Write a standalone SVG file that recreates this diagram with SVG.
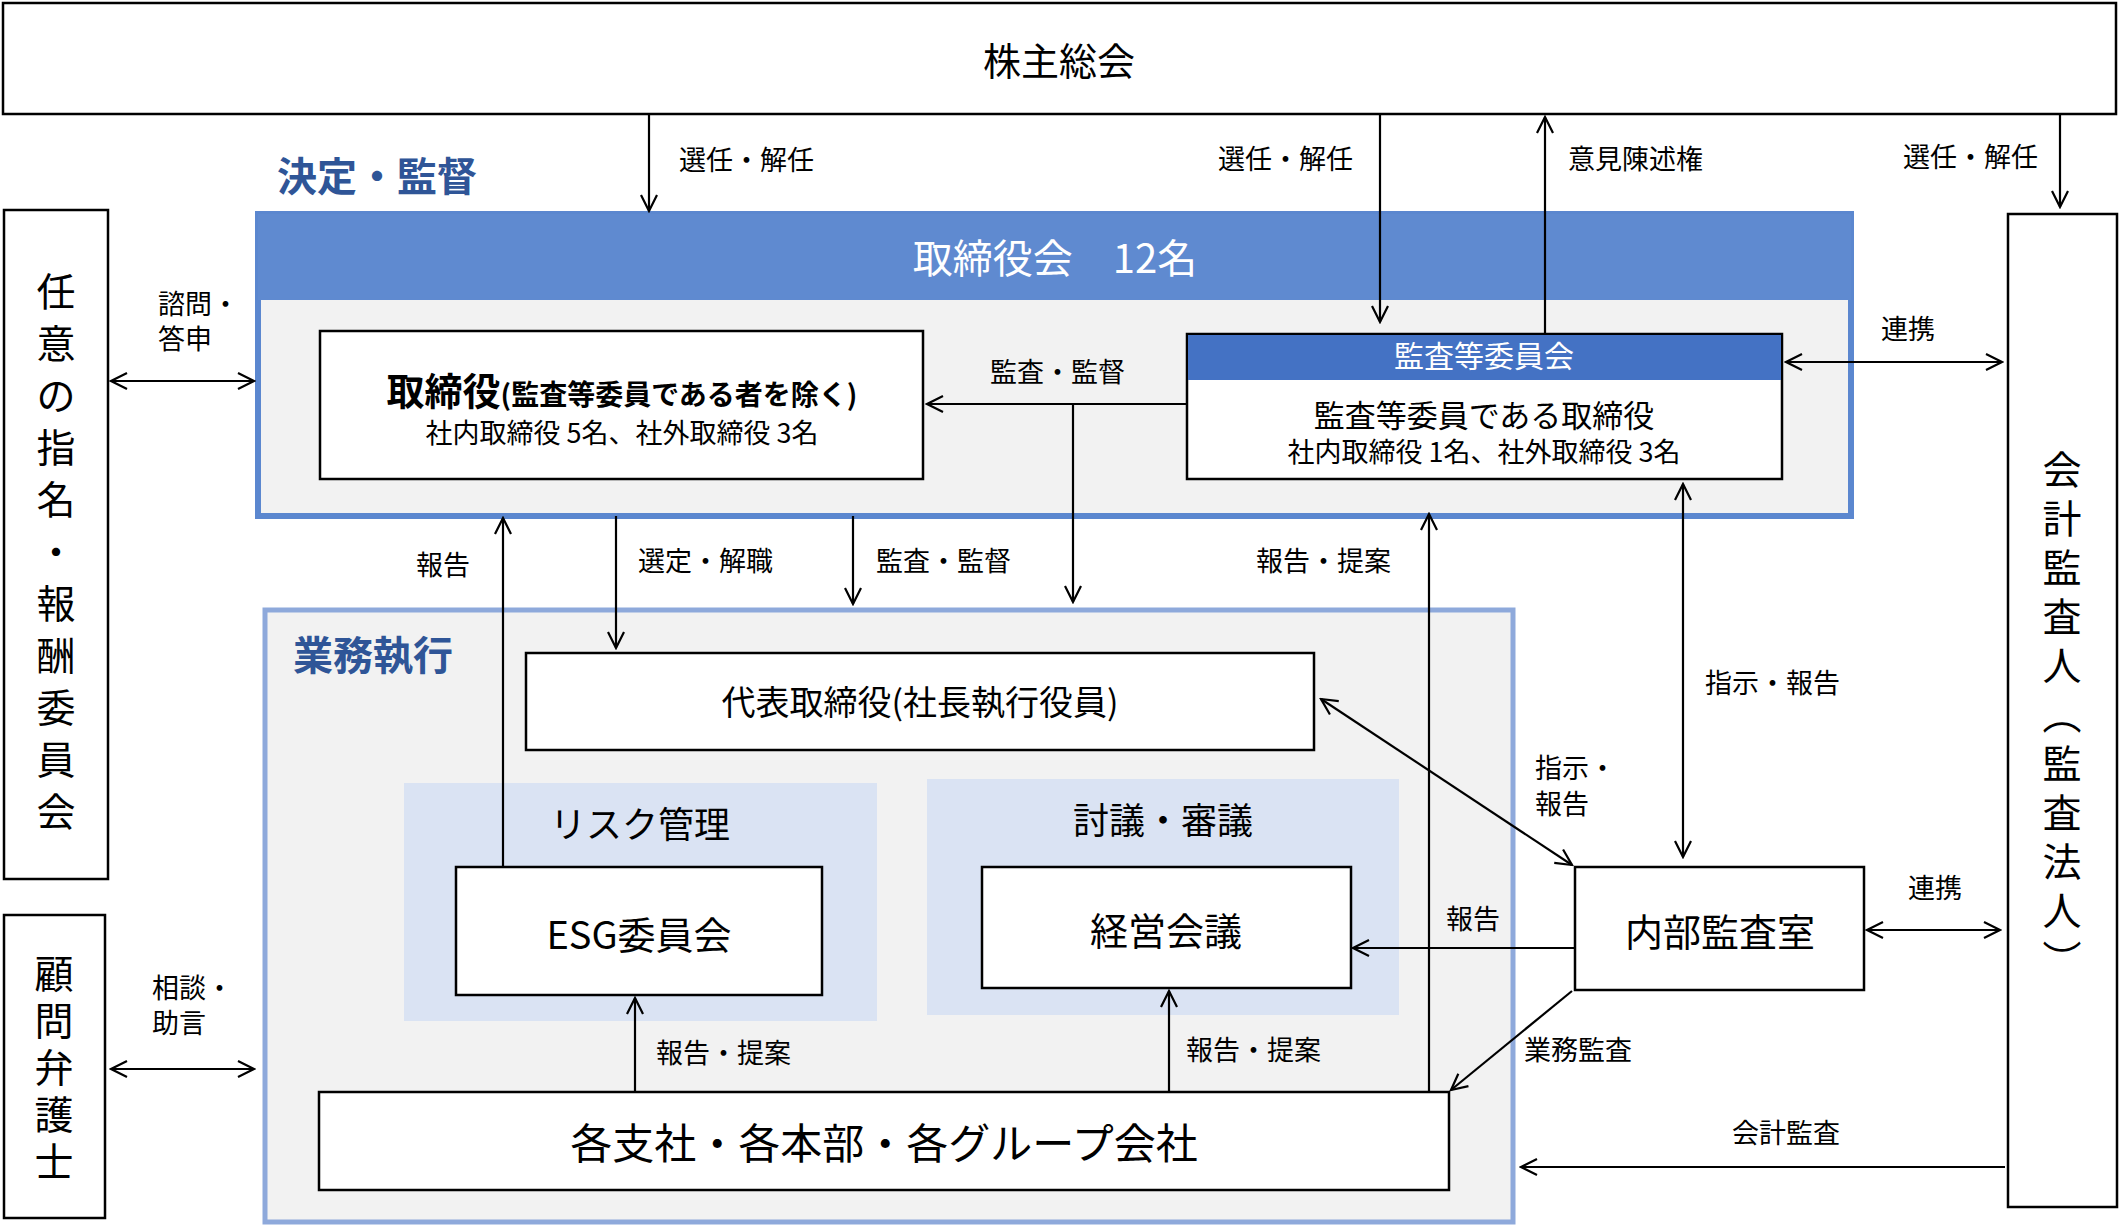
<svg xmlns="http://www.w3.org/2000/svg" width="2120" height="1228" viewBox="0 0 2120 1228">
<style>
text{font-family:"Noto Sans CJK JP","Noto Sans",sans-serif;fill:#000}
.box{fill:#fff;stroke:#000;stroke-width:2.5}
.lbl{font-size:27px}
.t38{font-size:38px}
.v{font-size:39px;text-anchor:middle}
.c{stroke:#000;stroke-width:2.2;fill:none;marker-end:url(#a)}
.d{stroke:#000;stroke-width:2.2;fill:none;marker-end:url(#a);marker-start:url(#a)}
</style>
<defs>
<marker id="a" viewBox="0 0 20 20" refX="18" refY="10" markerWidth="20" markerHeight="20" markerUnits="userSpaceOnUse" orient="auto-start-reverse">
<path d="M2,2 L18,10 L2,18" fill="none" stroke="#000" stroke-width="2.2"/>
</marker>
</defs>
<rect width="2120" height="1228" fill="#fff"/>
<g id="shareholders"><rect class="box" x="3" y="3" width="2113" height="111"/><text x="1059" y="75" class="t38" text-anchor="middle">株主総会</text></g>
<text x="277" y="191" font-size="40" font-weight="bold" style="fill:#2F5597">決定・監督</text>
<g id="board">
<rect x="258" y="214" width="1593" height="302" fill="#F2F2F2" stroke="#5B87CF" stroke-width="6"/>
<rect x="258" y="214" width="1593" height="86" fill="#5F8AD0"/>
<text x="1055" y="273" font-size="40" text-anchor="middle" style="fill:#fff">取締役会　12名</text>
</g>
<g id="directors"><rect class="box" x="320" y="331" width="603" height="148"/>
<text x="622" y="405" text-anchor="middle" font-weight="bold"><tspan font-size="38">取締役</tspan><tspan font-size="28">(監査等委員である者を除く)</tspan></text>
<text x="622" y="443" font-size="27" text-anchor="middle">社内取締役 5名、社外取締役 3名</text></g>
<g id="auditcommittee"><rect class="box" x="1187" y="334" width="595" height="145"/>
<rect x="1188" y="335" width="593" height="45" fill="#4472C4"/>
<text x="1484" y="367" font-size="30" text-anchor="middle" style="fill:#fff">監査等委員会</text>
<text x="1484" y="427" font-size="31" text-anchor="middle">監査等委員である取締役</text>
<text x="1484" y="462" font-size="27" text-anchor="middle">社内取締役 1名、社外取締役 3名</text></g>
<g id="exec"><rect x="265" y="610" width="1248" height="612" fill="#F2F2F2" stroke="#8EA9DB" stroke-width="5"/>
<text x="293" y="670" font-size="40" font-weight="bold" style="fill:#2F5597">業務執行</text></g>
<g id="ceo"><rect class="box" x="526" y="653" width="788" height="97"/><text x="920" y="715" font-size="34" text-anchor="middle">代表取締役(社長執行役員)</text></g>
<g id="risk"><rect x="404" y="783" width="473" height="238" fill="#DAE3F3"/><text x="640" y="838" font-size="36" text-anchor="middle">リスク管理</text></g>
<g id="discuss"><rect x="927" y="779" width="472" height="236" fill="#DAE3F3"/><text x="1163" y="834" font-size="36" text-anchor="middle">討議・審議</text></g>
<g id="esg"><rect class="box" x="456" y="867" width="366" height="128"/><text x="639" y="949" class="t38" text-anchor="middle">ESG委員会</text></g>
<g id="mgmt"><rect class="box" x="982" y="867" width="369" height="121"/><text x="1166" y="945" class="t38" text-anchor="middle">経営会議</text></g>
<g id="branches"><rect class="box" x="319" y="1092" width="1130" height="98"/><text x="884" y="1159" font-size="42" text-anchor="middle">各支社・各本部・各グループ会社</text></g>
<g id="internal"><rect class="box" x="1575" y="867" width="289" height="123"/><text x="1720" y="946" class="t38" text-anchor="middle">内部監査室</text></g>
<g id="nomination"><rect class="box" x="4" y="210" width="104" height="669"/>
<text class="v" x="56"><tspan x="56" y="306">任</tspan><tspan x="56" dy="52">意</tspan><tspan x="56" dy="52">の</tspan><tspan x="56" dy="52">指</tspan><tspan x="56" dy="52">名</tspan><tspan x="56" dy="52">・</tspan><tspan x="56" dy="52">報</tspan><tspan x="56" dy="52">酬</tspan><tspan x="56" dy="52">委</tspan><tspan x="56" dy="52">員</tspan><tspan x="56" dy="52">会</tspan></text></g>
<g id="lawyer"><rect class="box" x="4" y="915" width="101" height="303"/>
<text class="v" x="54"><tspan x="54" y="988">顧</tspan><tspan x="54" dy="47">問</tspan><tspan x="54" dy="47">弁</tspan><tspan x="54" dy="47">護</tspan><tspan x="54" dy="47">士</tspan></text></g>
<g id="auditor"><rect class="box" x="2008" y="214" width="109" height="993"/>
<text class="v" x="2062"><tspan x="2062" y="484">会</tspan><tspan x="2062" dy="49">計</tspan><tspan x="2062" dy="49">監</tspan><tspan x="2062" dy="49">査</tspan><tspan x="2062" dy="49">人</tspan><tspan x="2062" dy="49">︵</tspan><tspan x="2062" dy="49">監</tspan><tspan x="2062" dy="49">査</tspan><tspan x="2062" dy="49">法</tspan><tspan x="2062" dy="49">人</tspan><tspan x="2062" dy="49">︶</tspan></text></g>
<g id="connectors">
<path class="c" d="M649,114V211"/>
<path class="c" d="M1380,114V322"/>
<path class="c" d="M1545,334V117"/>
<path class="c" d="M2060,114V207"/>
<path class="d" d="M111,381H254"/>
<path class="d" d="M111,1069H254"/>
<path class="d" d="M1786,362H2002"/>
<path class="c" d="M1187,404H927"/>
<path class="c" d="M1073,404V602"/>
<path class="c" d="M503,867V518"/>
<path class="c" d="M616,516V648"/>
<path class="c" d="M853,516V604"/>
<path class="c" d="M1429,1092V514"/>
<path class="d" d="M1683,484V857"/>
<path class="d" d="M1572,865L1321,699"/>
<path class="d" d="M1867,930H2000"/>
<path class="c" d="M1575,948H1353"/>
<path class="c" d="M1572,991L1451,1090"/>
<path class="c" d="M2005,1167H1521"/>
<path class="c" d="M635,1092V998"/>
<path class="c" d="M1169,1092V991"/>
</g>
<g>
<text x="679" y="170" class="lbl">選任・解任</text>
<text x="1218" y="169" class="lbl">選任・解任</text>
<text x="1568" y="169" class="lbl">意見陳述権</text>
<text x="1903" y="167" class="lbl">選任・解任</text>
<text x="158" y="314" class="lbl">諮問・</text>
<text x="158" y="349" class="lbl">答申</text>
<text x="152" y="998" class="lbl">相談・</text>
<text x="152" y="1033" class="lbl">助言</text>
<text x="1881" y="339" class="lbl">連携</text>
<text x="990" y="382" class="lbl">監査・監督</text>
<text x="416" y="575" class="lbl">報告</text>
<text x="638" y="571" class="lbl">選定・解職</text>
<text x="876" y="571" class="lbl">監査・監督</text>
<text x="1256" y="571" class="lbl">報告・提案</text>
<text x="1705" y="693" class="lbl">指示・報告</text>
<text x="1535" y="778" class="lbl">指示・</text>
<text x="1535" y="814" class="lbl">報告</text>
<text x="1908" y="898" class="lbl">連携</text>
<text x="1446" y="929" class="lbl">報告</text>
<text x="1524" y="1060" class="lbl">業務監査</text>
<text x="1732" y="1143" class="lbl">会計監査</text>
<text x="656" y="1063" class="lbl">報告・提案</text>
<text x="1186" y="1060" class="lbl">報告・提案</text>
</g>
</svg>
